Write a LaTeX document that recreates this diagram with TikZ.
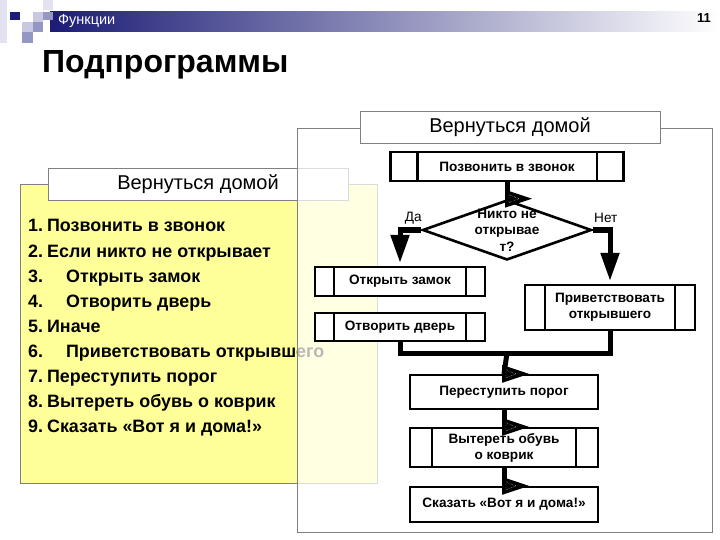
\documentclass[tikz,border=0pt]{standalone}
\usepackage{fontspec}
\setmainfont{Liberation Sans}
\usetikzlibrary{positioning,shapes.geometric,arrows.meta}
\definecolor{navy}{RGB}{28,28,118}
\definecolor{notepad}{RGB}{255,255,153}
\definecolor{framegray}{RGB}{128,128,128}
\definecolor{sqpale}{RGB}{226,226,240}
\definecolor{sqlav}{RGB}{200,200,226}
\definecolor{sqmid}{RGB}{150,150,196}
\tikzset{
  flow/.style={line width=5pt},
  proc/.style={draw,fill=white,line width=2.2pt,inner sep=0pt,align=center,
    font=\bfseries\fontsize{13.6}{16}\selectfont},
  ask/.style={draw,diamond,line width=2.6pt,inner sep=0pt,minimum width=169pt,minimum height=60pt},
  qtext/.style={align=center,font=\bfseries\fontsize{13.6}{16.5}\selectfont},
  lbl/.style={font=\fontsize{13.6}{15}\selectfont},
  item/.style={anchor=base west,inner sep=0pt,font=\bfseries\fontsize{17.9}{20}\selectfont},
  titlebox/.style={draw=framegray,fill=white,line width=0.8pt,minimum width=300pt,minimum height=32pt,
    font=\fontsize{20}{22}\selectfont},
  tip/.style={-{Triangle[width=18pt,length=28pt]},shorten >=3pt}
}
\newcommand\bars[2]{\draw[line width=2.2pt] ([xshift=#2]#1.north west) -- ([xshift=#2]#1.south west)
  ([xshift=-#2]#1.north east) -- ([xshift=-#2]#1.south east);}
\newcommand\flag[1]{\fill (#1) ++(-2,-9) -- ++(27,9) -- ++(-27,9) -- cycle;
  \draw[white,densely dotted,line width=0.4pt] (#1) ++(2,-4) -- ++(10,4) -- ++(-10,4) -- cycle;}
\begin{document}
\begin{tikzpicture}[x=1pt,y=-1pt]
    \useasboundingbox (0,0) rectangle (720,540);
    \fill[white] (0,0) rectangle (720,540);
            % header
            \fill[sqpale] (0,0) rectangle (7,43);
            \fill[sqpale] (43,0) rectangle (53,10);
            \shade[left color=navy,right color=white] (50,12) rectangle (720,32);
            \fill[navy] (10,12) rectangle (20,20);
            \fill[sqlav] (33,12) rectangle (43,22);
            \fill[sqmid] (43,12) rectangle (53,20);
            \fill[sqlav] (22,22) rectangle (33,32);
            \fill[sqmid] (33,22) rectangle (43,32);
            \fill[sqmid] (22,32) rectangle (33,43);
            \node[white,anchor=west,inner sep=0pt,font=\fontsize{14.5}{16}\selectfont] (topic) at (58,21) {Функции};
            \node[font=\bfseries\fontsize{13}{15}\selectfont] (page) at (704,18) {11};
            \node[anchor=base west,inner sep=0pt,font=\bfseries\fontsize{32}{35}\selectfont] (heading) at (42,73) {Подпрограммы};
            % left panel: the text version
            \draw[framegray,fill=notepad,line width=0.8pt] (20,184) rectangle (377,483);
            \node[titlebox] (lefttitle) at (198,184) {Вернуться домой};
            \foreach \n/\t/\ind [count=\i] in {1/Позвонить в звонок/4,2/Если никто не открывает/4,3/Открыть замок/23,
                4/Отворить дверь/23,5/Иначе/4,6/Приветствовать открывшего/23,7/Переступить порог/4,
                8/Вытереть обувь о коврик/4,9/Сказать «Вот я и дома!»/4}
                \node[item] (line\i) at (28,{207+25*\i}) {\n.\hspace{\ind pt}\t};
            % right panel: the flowchart
            \fill[white,opacity=0.72] (297,128) rectangle (712,532);
            \draw[framegray,line width=0.8pt] (297,128) rectangle (712,532);
            \node[titlebox] (righttitle) at (510,127) {Вернуться домой};
            \node[proc,minimum width=233pt,minimum height=29pt] (call) at (507,166.5) {Позвонить в звонок};
            \node[ask] (door?) at (507,230) {};
            \node[qtext] (asktext) at (507,230) {Никто не\\открывае\\т?};
            \node[lbl] (yes) at ([shift={(-8,-12)}]door?.west) {Да};
            \node[lbl] (no) at ([shift={(13,-12)}]door?.east) {Нет};
            \node[proc,minimum width=170pt,minimum height=29pt] (lock) at (400,281.5) {Открыть замок};
            \node[proc,minimum width=170pt,minimum height=28pt] (open) at (400,327) {Отворить дверь};
            \node[proc,minimum width=170pt,minimum height=45pt] (greet) at (610,307.5) {Приветствовать\\открывшего};
            \node[proc,minimum width=188pt,minimum height=34pt] (threshold) at (504,392) {Переступить порог};
            \node[proc,minimum width=188pt,minimum height=39pt] (wipe) at (504,447.5) {Вытереть обувь\\о коврик};
            \node[proc,minimum width=188pt,minimum height=35pt] (say) at (504,504.5) {Сказать «Вот я и дома!»};
            \bars{call}{28pt}
            \bars{lock}{20pt}
            \bars{open}{20pt}
            \bars{greet}{21pt}
            \bars{wipe}{23pt}
            \coordinate (join) at (507,353);
            \draw[flow] (call.south) -- (door?.north);
            \draw[flow,tip] (door?.west) -| (lock.north);
            \draw[flow,tip] (door?.east) -| (greet.north);
            \draw[flow] (open.south) -- (open.south |- join) -- (greet.south |- join) -- (greet.south);
            \draw[flow] (join) -- (threshold.north);
            \draw[flow] (threshold.south) -- (wipe.north);
            \draw[flow] (wipe.south) -- (say.north);
            \flag{door?.north}
            \flag{threshold.north}
            \flag{wipe.north}
            \flag{say.north}
        \end{tikzpicture}
\end{document}
